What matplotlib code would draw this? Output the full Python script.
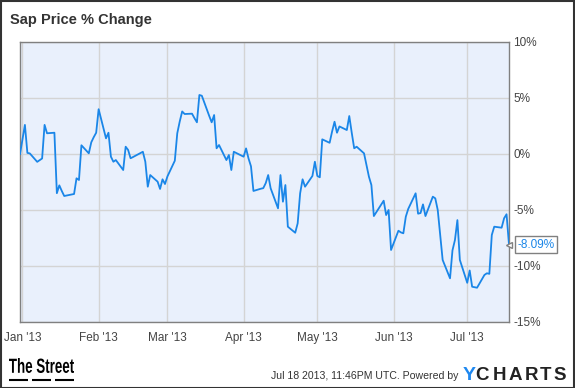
import pandas as pd
import matplotlib
matplotlib.use('Agg')
import matplotlib.pyplot as plt
from matplotlib.patches import Rectangle, PathPatch
from matplotlib.lines import Line2D
from matplotlib.textpath import TextPath
from matplotlib.font_manager import FontProperties
from matplotlib.transforms import Affine2D

# SAP price % change, Dec 31 2012 -> Jul 18 2013
dates = [
    '2012-12-31', '2013-01-02', '2013-01-03', '2013-01-04', '2013-01-07', '2013-01-08',
    '2013-01-09', '2013-01-10', '2013-01-11', '2013-01-14', '2013-01-15', '2013-01-16',
    '2013-01-17', '2013-01-18', '2013-01-22', '2013-01-23', '2013-01-24', '2013-01-25',
    '2013-01-28', '2013-01-29', '2013-01-30', '2013-01-31', '2013-02-01', '2013-02-04',
    '2013-02-05', '2013-02-06', '2013-02-07', '2013-02-08', '2013-02-11', '2013-02-12',
    '2013-02-13', '2013-02-14', '2013-02-15', '2013-02-19', '2013-02-20', '2013-02-21',
    '2013-02-22', '2013-02-25', '2013-02-26', '2013-02-27', '2013-02-28', '2013-03-01',
    '2013-03-04', '2013-03-05', '2013-03-06', '2013-03-07', '2013-03-08', '2013-03-11',
    '2013-03-12', '2013-03-13', '2013-03-14', '2013-03-15', '2013-03-18', '2013-03-19',
    '2013-03-20', '2013-03-21', '2013-03-22', '2013-03-25', '2013-03-26', '2013-03-27',
    '2013-03-28', '2013-04-01', '2013-04-02', '2013-04-03', '2013-04-04', '2013-04-05',
    '2013-04-08', '2013-04-09', '2013-04-10', '2013-04-11', '2013-04-12', '2013-04-15',
    '2013-04-16', '2013-04-17', '2013-04-18', '2013-04-19', '2013-04-22', '2013-04-23',
    '2013-04-24', '2013-04-25', '2013-04-26', '2013-04-29', '2013-04-30', '2013-05-01',
    '2013-05-02', '2013-05-03', '2013-05-06', '2013-05-07', '2013-05-08', '2013-05-09',
    '2013-05-10', '2013-05-13', '2013-05-14', '2013-05-15', '2013-05-16', '2013-05-17',
    '2013-05-20', '2013-05-21', '2013-05-22', '2013-05-23', '2013-05-24', '2013-05-28',
    '2013-05-29', '2013-05-30', '2013-05-31', '2013-06-03', '2013-06-04', '2013-06-05',
    '2013-06-06', '2013-06-07', '2013-06-10', '2013-06-11', '2013-06-12', '2013-06-13',
    '2013-06-14', '2013-06-17', '2013-06-18', '2013-06-19', '2013-06-20', '2013-06-21',
    '2013-06-24', '2013-06-25', '2013-06-26', '2013-06-27', '2013-06-28', '2013-07-01',
    '2013-07-02', '2013-07-03', '2013-07-05', '2013-07-08', '2013-07-09', '2013-07-10',
    '2013-07-11', '2013-07-12', '2013-07-15', '2013-07-16', '2013-07-17', '2013-07-18',
]
pct_change = [
    0.0, 2.6, 0.1, 0.05, -0.7, -0.55,
    -0.4, 2.6, 1.85, 1.9, -3.5, -2.8,
    -3.3, -3.75, -3.57, -2.17, -2.32, 0.78,
    0.06, 1.04, 1.5, 1.9, 4.0, 1.4,
    1.9, -0.24, -0.69, -0.54, -1.43, 0.65,
    0.36, -0.38, -0.27, 0.2, -0.69, -2.92,
    -1.88, -2.47, -3.12, -2.26, -2.68, -2.0,
    -0.6, 1.85, 2.9, 3.8, 3.57, 3.6,
    3.2, 2.83, 5.27, 5.2, 3.4, 2.83,
    3.48, 0.51, 0.8, -0.54, -0.09, -1.43,
    0.2, -0.24, 0.5, -0.4, -1.1, -3.3,
    -3.1, -3.05, -2.6, -1.88, -3.06, -4.85,
    -1.88, -4.26, -2.77, -6.49, -7.03, -6.19,
    -3.51, -2.26, -2.92, -1.96, -0.69, -1.96,
    -2.08, 1.31, 1.0, 2.0, 2.88, 1.9,
    2.46, 2.14, 3.39, 1.9, 0.51, 0.65,
    0.06, -1.0, -2.03, -2.77, -5.54, -4.17,
    -5.45, -5.0, -8.57, -6.85, -7.0, -7.08,
    -5.6, -4.9, -3.51, -5.33, -5.27, -4.5,
    -5.54, -3.81, -3.96, -5.0, -7.2, -9.46,
    -11.1, -8.6, -7.68, -5.9, -9.46, -11.5,
    -10.4, -11.85, -11.94, -10.8, -10.65, -10.7,
    -7.23, -6.49, -6.58, -5.74, -5.38, -8.09,
]
month_ticks = ['2013-01-01', '2013-02-01', '2013-03-01', '2013-04-01',
               '2013-05-01', '2013-06-01', '2013-07-01']
month_labels = ["Jan '13", "Feb '13", "Mar '13", "Apr '13", "May '13", "Jun '13", "Jul '13"]
y_ticks = [10, 5, 0, -5, -10, -15]

x = pd.to_datetime(dates)
W, H = 575, 388

plt.rcParams['font.family'] = ['Liberation Sans', 'DejaVu Sans']
fig = plt.figure(figsize=(W / 100, H / 100), dpi=100)

# plot area in pixel terms: x 20..509, y 42..322
ax = fig.add_axes([20 / W, (H - 322) / H, 489 / W, 280 / H])
ax.set_facecolor('#e9f0fc')
ax.plot(x, pct_change, color='#1a86e8', lw=1.3, solid_joinstyle='round', zorder=3)

ax.set_xlim(pd.Timestamp('2012-12-31'), pd.Timestamp('2013-07-18'))
ax.set_ylim(-15, 10)
ax.set_xticks(pd.to_datetime(month_ticks))
ax.set_xticklabels(month_labels)
ax.set_yticks(y_ticks)
ax.set_yticklabels([f'{v}%' for v in y_ticks])
ax.yaxis.tick_right()
ax.grid(True, color='#d4d4d4', lw=1)
ax.set_axisbelow(True)
ax.tick_params(length=0, width=0, labelsize=8.5, colors='#444444')
ax.tick_params(axis='y', pad=3)
ax.tick_params(axis='x', pad=7)
for s in ax.spines.values():
    s.set_color('#808080')
    s.set_linewidth(1)

# last value flag
ax.annotate('-8.09%', xy=(x[-1], pct_change[-1]), xytext=(6, 0),
            textcoords='offset points', va='center', ha='left',
            fontsize=8.5, color='#1a86e8', annotation_clip=False, zorder=5,
            bbox=dict(boxstyle='square,pad=0.2', fc='white', ec='#808080', lw=1))
ax.plot([x[-1]], [pct_change[-1]], marker='<', ms=5, mfc='white', mec='#808080',
        mew=1, clip_on=False, linestyle='none', zorder=4)

# title
fig.text(10 / W, 1 - 20 / H, 'Sap Price % Change', fontsize=10.5, fontweight='bold',
         color='#333333', va='center', ha='left')

# footer: condensed "The Street" logo, squeezed into x 9..74, y 358..373 (pixels from top)
tp = TextPath((0, 0), 'The Street', size=20,
              prop=FontProperties(family='Liberation Sans', weight='bold'))
ext = tp.get_extents()
sx = 65 / ext.width
sy = 15 / ext.height
logo_tf = Affine2D().translate(-ext.x0, -ext.y0).scale(sx, sy).translate(9, H - 373)
fig.add_artist(PathPatch(tp, transform=logo_tf, fc='black', ec='none'))
for x0 in (9, 32, 55):
    fig.add_artist(Line2D([x0 / W, (x0 + 19) / W], [1 - 380 / H, 1 - 380 / H],
                          color='black', lw=1.5, solid_capstyle='butt'))

fig.text(458 / W, 1 - 376 / H, "Jul 18 2013, 11:46PM UTC. Powered by",
         fontsize=7.6, color='#333333', va='center', ha='right')
fig.text(463 / W, 1 - 375 / H, 'Y', fontsize=14, fontweight='bold',
         color='#1e88f0', va='center', ha='left')
for xl, ch in zip((482, 499, 515, 531, 546, 560), 'CHARTS'):
    fig.text(xl / W, 1 - 375 / H, ch, fontsize=13.5, fontweight='bold',
             color='#222222', va='center', ha='center')

# outer frame
fig.add_artist(Rectangle((0.5 / W, 0.5 / H), 1 - 1.5 / W, 1 - 1.5 / H,
                         transform=fig.transFigure, fill=False, ec='#333333', lw=1.5))

fig.savefig('out.png', dpi=100)
